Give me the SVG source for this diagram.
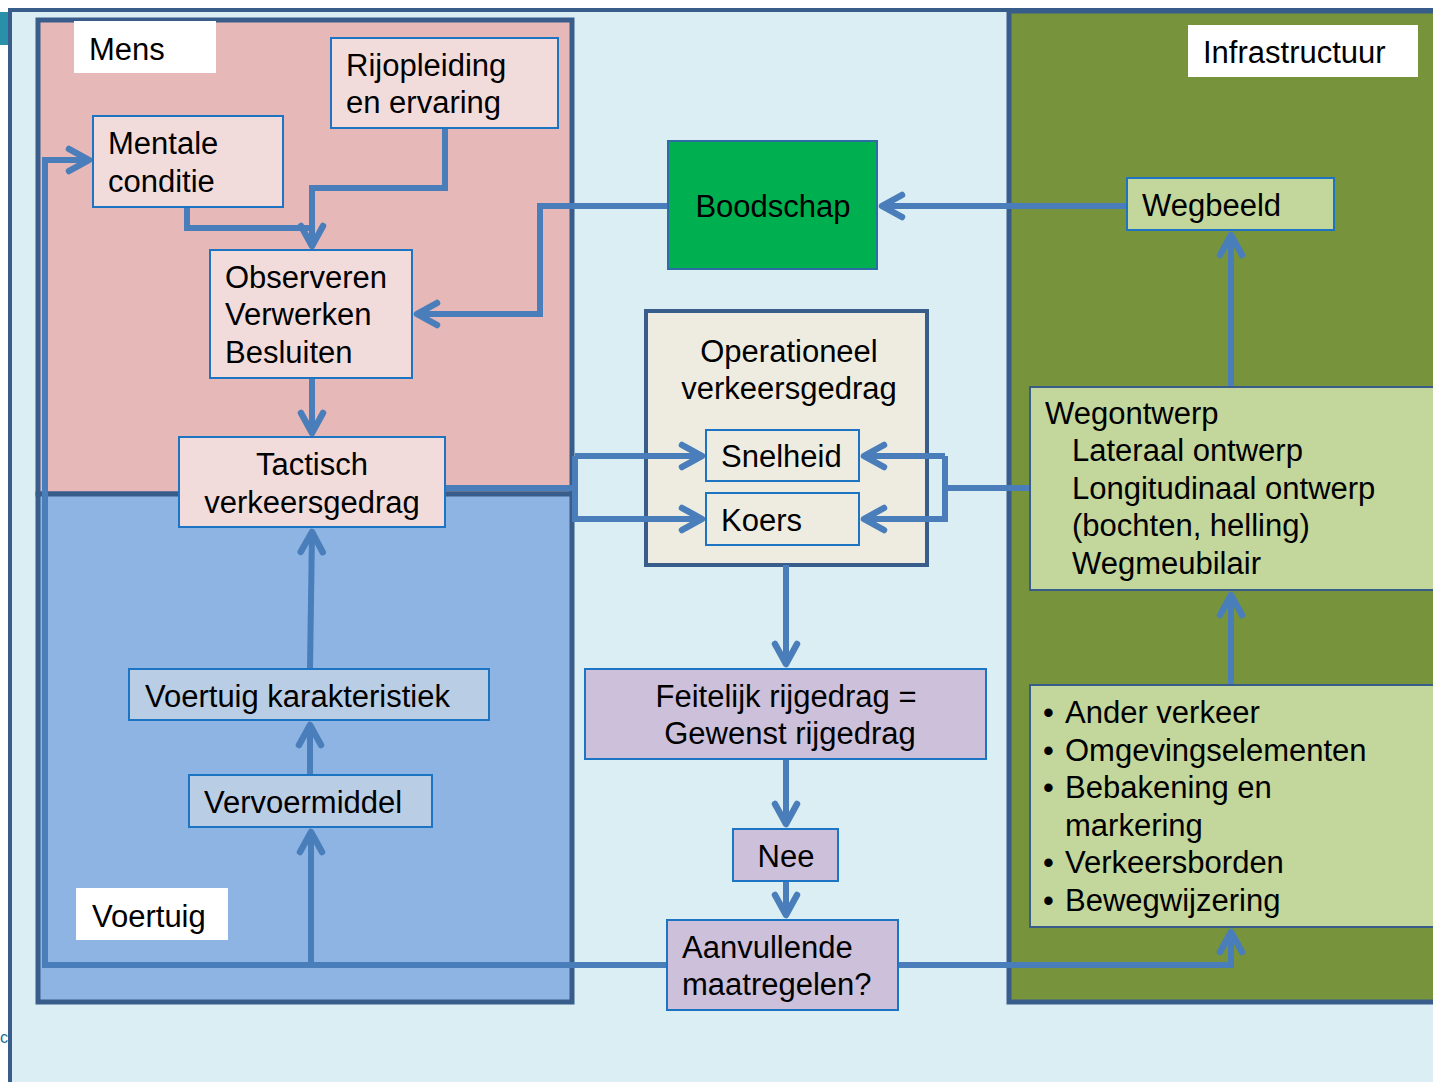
<svg xmlns="http://www.w3.org/2000/svg" width="1433" height="1082" viewBox="0 0 1433 1082">
<defs>
<style>
text{font-family:"Liberation Sans",Arial,sans-serif;font-size:31px;fill:#000}
.panel{stroke:#385D8A;stroke-width:5}
.node{stroke:#1C74C2;stroke-width:2}
.pink{fill:#F2DCDB}
.green{fill:#C3D69B}
.purple{fill:#CCC0DA}
.label{fill:#fff}
.c{fill:none;stroke:#4A7EBB;stroke-width:6;stroke-linejoin:miter}
.a{marker-end:url(#arr)}
</style>
<marker id="arr" markerUnits="userSpaceOnUse" markerWidth="40" markerHeight="40" viewBox="-25 -20 30 40" refX="0" refY="0" orient="auto">
<path d="M-20,-11 L0,0 L-20,11" fill="none" stroke="#4A7EBB" stroke-width="6.5" stroke-linecap="round" stroke-linejoin="round"/>
</marker>
</defs>
<rect x="0" y="0" width="1433" height="1082" fill="#fff"/>
<rect x="0" y="12" width="8" height="33" fill="#2A8FA8"/>
<rect x="10" y="10" width="1440" height="1090" fill="#DBEEF4" stroke="#385D8A" stroke-width="4"/>
<text x="0" y="1043" style="font-size:16px;fill:#1F6F8F">c</text>

<g id="panel-mens"><rect class="panel" x="38" y="20" width="534" height="474" fill="#E6B8B7"/></g>
<g id="panel-voertuig"><rect class="panel" x="38" y="494" width="534" height="508" fill="#8EB4E3"/></g>
<g id="panel-infra"><rect class="panel" x="1009" y="11" width="440" height="991" fill="#77933C"/></g>
<g id="node-operationeel"><rect x="646" y="311" width="281" height="254" fill="#EEECE1" stroke="#385D8A" stroke-width="4"/><text x="789" y="362" text-anchor="middle">Operationeel</text><text x="789" y="399" text-anchor="middle">verkeersgedrag</text></g>

<g id="connectors">
<path class="c a" d="M445,128 V188 H312 V246"/>
<path class="c" d="M187,207 V228 H312"/>
<path class="c a" d="M668,206 H540 V314 H417"/>
<path class="c a" d="M1127,206 H882"/>
<path class="c a" d="M312,378 V433"/>
<path class="c" d="M445,488 H575"/>
<path class="c a" d="M575,456 H702"/>
<path class="c a" d="M575,456 V519 H702"/>
<path class="c" d="M1030,488 H945"/>
<path class="c a" d="M945,456 H864"/>
<path class="c a" d="M945,456 V519 H864"/>
<path class="c a" d="M1231,387 V235"/>
<path class="c a" d="M1231,685 V595"/>
<path class="c a" d="M786,565 V664"/>
<path class="c a" d="M786,759 V824"/>
<path class="c a" d="M786,881 V915"/>
<path class="c a" d="M667,965 H45 V160 H89"/>
<path class="c a" d="M311,965 V832"/>
<path class="c a" d="M898,965 H1231 V932"/>
<path class="c a" d="M310,775 V725"/>
<path class="c a" d="M310,669 L312,532"/>
</g>

<g id="label-mens"><rect class="label" x="74" y="21" width="142" height="52"/><text x="89" y="60">Mens</text></g>
<g id="node-rijopleiding"><rect class="node pink" x="331" y="38" width="227" height="90"/><text x="346" y="76">Rijopleiding</text><text x="346" y="113">en ervaring</text></g>
<g id="node-mentale"><rect class="node pink" x="93" y="116" width="190" height="91"/><text x="108" y="154">Mentale</text><text x="108" y="192">conditie</text></g>
<g id="node-observeren"><rect class="node pink" x="210" y="250" width="202" height="128"/><text x="225" y="288">Observeren</text><text x="225" y="325">Verwerken</text><text x="225" y="363">Besluiten</text></g>
<g id="node-tactisch"><rect class="node pink" x="179" y="437" width="266" height="90"/><text x="312" y="475" text-anchor="middle">Tactisch</text><text x="312" y="513" text-anchor="middle">verkeersgedrag</text></g>
<g id="node-karakteristiek"><rect class="node" x="129" y="669" width="360" height="51" fill="#B9CDE5"/><text x="145" y="707">Voertuig karakteristiek</text></g>
<g id="node-vervoermiddel"><rect class="node" x="189" y="775" width="243" height="52" fill="#B9CDE5"/><text x="204" y="813">Vervoermiddel</text></g>
<g id="label-voertuig"><rect class="label" x="76" y="888" width="152" height="52"/><text x="92" y="927">Voertuig</text></g>

<g id="node-boodschap"><rect x="668" y="141" width="209" height="128" fill="#00B050" stroke="#2E6DA4" stroke-width="2"/><text x="773" y="217" text-anchor="middle">Boodschap</text></g>
<g id="node-snelheid"><rect class="node" x="706" y="430" width="153" height="51" fill="#EEECE1"/><text x="721" y="467">Snelheid</text></g>
<g id="node-koers"><rect class="node" x="706" y="493" width="153" height="52" fill="#EEECE1"/><text x="721" y="531">Koers</text></g>
<g id="node-feitelijk"><rect class="node purple" x="585" y="669" width="401" height="90"/><text x="786" y="707" text-anchor="middle">Feitelijk rijgedrag =</text><text x="790" y="744" text-anchor="middle">Gewenst rijgedrag</text></g>
<g id="node-nee"><rect class="node purple" x="733" y="829" width="105" height="52"/><text x="786" y="867" text-anchor="middle">Nee</text></g>
<g id="node-aanvullende"><rect class="node purple" x="667" y="920" width="231" height="90"/><text x="682" y="958">Aanvullende</text><text x="682" y="995">maatregelen?</text></g>

<g id="label-infra"><rect class="label" x="1188" y="25" width="230" height="52"/><text x="1203" y="63">Infrastructuur</text></g>
<g id="node-wegbeeld"><rect class="node green" x="1127" y="178" width="207" height="52"/><text x="1142" y="216">Wegbeeld</text></g>
<g id="node-wegontwerp"><rect class="green" x="1030" y="387" width="410" height="203" stroke="#385D8A" stroke-width="2"/><text x="1045" y="424">Wegontwerp</text><text x="1072" y="461">Lateraal ontwerp</text><text x="1072" y="499">Longitudinaal ontwerp</text><text x="1072" y="536">(bochten, helling)</text><text x="1072" y="574">Wegmeubilair</text></g>
<g id="node-elementen"><rect class="green" x="1030" y="685" width="410" height="242" stroke="#385D8A" stroke-width="2"/>
<text x="1043" y="723">•</text><text x="1065" y="723">Ander verkeer</text>
<text x="1043" y="761">•</text><text x="1065" y="761">Omgevingselementen</text>
<text x="1043" y="798">•</text><text x="1065" y="798">Bebakening en</text>
<text x="1065" y="836">markering</text>
<text x="1043" y="873">•</text><text x="1065" y="873">Verkeersborden</text>
<text x="1043" y="911">•</text><text x="1065" y="911">Bewegwijzering</text></g>
</svg>
